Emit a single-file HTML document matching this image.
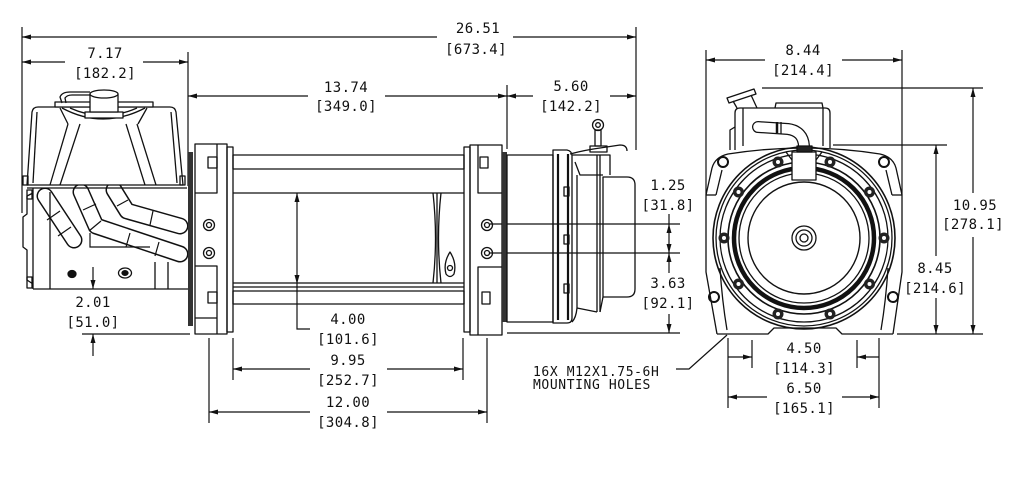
<!DOCTYPE html>
<html><head><meta charset="utf-8">
<style>
html,body{margin:0;padding:0;background:#fff;}
svg{display:block;}
text{font-family:"DejaVu Sans Mono","Liberation Mono",monospace;font-size:14px;fill:#111;letter-spacing:0.4px;}
text.s{font-size:13px;letter-spacing:0.6px;}
</style></head><body>
<svg width="1025" height="481" viewBox="0 0 1025 481" xmlns="http://www.w3.org/2000/svg">
<rect width="1025" height="481" fill="#fff"/>

<!-- ================= DIMENSION LINES ================= -->
<g stroke="#111" stroke-width="1.2" fill="none">
  <!-- 26.51 -->
  <line x1="22" y1="27" x2="22" y2="213"/>
  <line x1="636" y1="27" x2="636" y2="150"/>
  <line x1="22" y1="37" x2="437" y2="37"/>
  <line x1="513" y1="37" x2="636" y2="37"/>
  <!-- 7.17 -->
  <line x1="188" y1="52" x2="188" y2="186"/>
  <line x1="22" y1="62" x2="65" y2="62"/>
  <line x1="143" y1="62" x2="188" y2="62"/>
  <!-- 13.74 / 5.60 -->
  <line x1="188" y1="96" x2="308" y2="96"/>
  <line x1="385" y1="96" x2="507" y2="96"/>
  <line x1="507" y1="85" x2="507" y2="149"/>
  <line x1="507" y1="96" x2="533" y2="96"/>
  <line x1="610" y1="96" x2="636" y2="96"/>
  <!-- 2.01 -->
  <line x1="82" y1="334" x2="190" y2="334"/>
  <line x1="93" y1="267" x2="93" y2="289"/>
  <line x1="93" y1="334" x2="93" y2="356"/>
  <!-- 4.00 -->
  <polyline points="297,193 297,329 310,329"/>
  <!-- 9.95 -->
  <line x1="233" y1="338" x2="233" y2="380"/>
  <line x1="463" y1="338" x2="463" y2="380"/>
  <line x1="233" y1="369" x2="310" y2="369"/>
  <line x1="387" y1="369" x2="463" y2="369"/>
  <!-- 12.00 -->
  <line x1="209" y1="338" x2="209" y2="423"/>
  <line x1="487" y1="338" x2="487" y2="423"/>
  <line x1="209" y1="412" x2="310" y2="412"/>
  <line x1="387" y1="412" x2="487" y2="412"/>
  <!-- 1.25 / 3.63 -->
  <line x1="490" y1="224" x2="680" y2="224"/>
  <line x1="490" y1="253" x2="680" y2="253"/>
  <line x1="507" y1="333" x2="680" y2="333"/>
  <line x1="669" y1="214" x2="669" y2="273"/>
  <line x1="669" y1="314" x2="669" y2="333"/>
  <!-- 8.44 -->
  <line x1="706" y1="50" x2="706" y2="195"/>
  <line x1="902" y1="50" x2="902" y2="195"/>
  <line x1="706" y1="60" x2="765" y2="60"/>
  <line x1="842" y1="60" x2="902" y2="60"/>
  <!-- 10.95 -->
  <line x1="762" y1="88" x2="983" y2="88"/>
  <line x1="973" y1="88" x2="973" y2="193"/>
  <line x1="973" y1="237" x2="973" y2="334"/>
  <!-- 8.45 -->
  <line x1="833" y1="145" x2="947" y2="145"/>
  <line x1="936" y1="145" x2="936" y2="256"/>
  <line x1="936" y1="298" x2="936" y2="334"/>
  <line x1="897" y1="334" x2="983" y2="334"/>
  <!-- 4.50 -->
  <line x1="752" y1="340" x2="752" y2="368"/>
  <line x1="857" y1="340" x2="857" y2="368"/>
  <line x1="728" y1="357" x2="752" y2="357"/>
  <line x1="857" y1="357" x2="879" y2="357"/>
  <!-- 6.50 -->
  <line x1="728" y1="338" x2="728" y2="408"/>
  <line x1="879" y1="338" x2="879" y2="408"/>
  <line x1="728" y1="397" x2="767" y2="397"/>
  <line x1="842" y1="397" x2="879" y2="397"/>
  <!-- leader -->
  <polyline points="727,335 689,369 676,369"/>
</g>

<!-- arrowheads -->
<g fill="#111" stroke="none">
  <polygon points="22,37 31,34.5 31,39.5"/>
  <polygon points="636,37 627,34.5 627,39.5"/>
  <polygon points="22,62 31,59.5 31,64.5"/>
  <polygon points="188,62 179,59.5 179,64.5"/>
  <polygon points="188,96 197,93.5 197,98.5"/>
  <polygon points="507,96 498,93.5 498,98.5"/>
  <polygon points="507,96 516,93.5 516,98.5"/>
  <polygon points="636,96 627,93.5 627,98.5"/>
  <polygon points="93,289 90.5,280 95.5,280"/>
  <polygon points="93,334 90.5,343 95.5,343"/>
  <polygon points="297,193 294.5,202 299.5,202"/>
  <polygon points="297,284 294.5,275 299.5,275"/>
  <polygon points="233,369 242,366.5 242,371.5"/>
  <polygon points="463,369 454,366.5 454,371.5"/>
  <polygon points="209,412 218,409.5 218,414.5"/>
  <polygon points="487,412 478,409.5 478,414.5"/>
  <polygon points="669,224 666.5,233 671.5,233"/>
  <polygon points="669,253 666.5,244 671.5,244"/>
  <polygon points="669,253 666.5,262 671.5,262"/>
  <polygon points="669,333 666.5,324 671.5,324"/>
  <polygon points="706,60 715,57.5 715,62.5"/>
  <polygon points="902,60 893,57.5 893,62.5"/>
  <polygon points="973,88 970.5,97 975.5,97"/>
  <polygon points="973,334 970.5,325 975.5,325"/>
  <polygon points="936,145 933.5,154 938.5,154"/>
  <polygon points="936,334 933.5,325 938.5,325"/>
  <polygon points="752,357 743,354.5 743,359.5"/>
  <polygon points="857,357 866,354.5 866,359.5"/>
  <polygon points="728,397 737,394.5 737,399.5"/>
  <polygon points="879,397 870,394.5 870,399.5"/>
</g>

<!-- ================= SIDE VIEW: MOTOR ================= -->
<!-- cables (tubes) -->
<g fill="none" stroke-linecap="round" stroke-linejoin="round">
  <g stroke="#111" stroke-width="17">
    <polyline points="45,196 74,240"/>
    <polyline points="81,192 96,226 180,254"/>
    <polyline points="114,190 127,211 180,226"/>
  </g>
  <g stroke="#fff" stroke-width="14">
    <polyline points="45,196 74,240"/>
    <polyline points="81,192 96,226 180,254"/>
    <polyline points="114,190 127,211 180,226"/>
  </g>
</g>
<g stroke="#111" stroke-width="1.2" fill="none">
  <!-- cable bands -->
  <line x1="47" y1="220" x2="60" y2="211"/>
  <line x1="58" y1="236" x2="71" y2="227"/>
  <line x1="83" y1="210" x2="96" y2="204"/>
  <line x1="89" y1="231" x2="101" y2="221"/>
  <line x1="126" y1="247" x2="130" y2="233"/>
  <line x1="155" y1="256" x2="159" y2="242"/>
  <line x1="117" y1="206" x2="128" y2="200"/>
  <line x1="150" y1="225" x2="153" y2="211"/>
  <path d="M90,233 L90,247 L150,247"/>
</g>

<g stroke="#111" stroke-width="1.3" fill="none" stroke-linejoin="round">
  <!-- box -->
  <path d="M27,185 L32,112 Q33,107 38,107 L170,107 Q175,107 176,112 L183,185 Z" fill="#fff"/>
  <line x1="37" y1="112" x2="33" y2="183"/>
  <line x1="171" y1="112" x2="177" y2="183"/>
  <line x1="27" y1="188" x2="187" y2="188"/>
  <rect x="23" y="176" width="5" height="9"/>
  <rect x="180" y="176" width="5" height="9"/>
  <!-- legs -->
  <line x1="68" y1="124" x2="50" y2="185"/>
  <line x1="80" y1="124" x2="60" y2="185"/>
  <line x1="126" y1="124" x2="145" y2="185"/>
  <line x1="137" y1="124" x2="156" y2="185"/>
  <!-- top plate -->
  <path d="M55,102 L153,102 L153,107 L55,107 Z" fill="#fff"/>
  <path d="M62,108 Q103,130 145,108"/>
  <path d="M70,108 Q103,123 137,108"/>
  <path d="M60,108 L68,124 M147,108 L138,124"/>
  <!-- cap -->
  <rect x="85" y="112" width="38" height="6" fill="#fff"/>
  <rect x="90" y="94" width="28" height="18" fill="#fff"/>
  <ellipse cx="104" cy="94" rx="14" ry="4" fill="#fff"/>
  <path d="M62,103 L60,97 Q62,92 70,92 L90,92"/>
  <path d="M66,103 L65,98 Q67,95 72,95 L90,95"/>
  <!-- lower body -->
  <line x1="33" y1="188" x2="33" y2="289"/>
  <line x1="50" y1="192" x2="50" y2="289"/>
  <line x1="33" y1="289" x2="188" y2="289"/>
  <line x1="155" y1="262" x2="155" y2="289"/>
  <line x1="168" y1="262" x2="168" y2="289"/>
  <path d="M33,193 L27,196 L27,214 L23,217 L23,247 L27,250 L27,280 L33,284"/>
  <rect x="27" y="190" width="5" height="9"/>
  <rect x="27" y="277" width="5" height="11"/>
  <!-- dot & screw -->
  <ellipse cx="72" cy="274" rx="4" ry="3.5" fill="#111"/>
  <ellipse cx="125" cy="273" rx="6.5" ry="5"/>
  <ellipse cx="125" cy="273" rx="3" ry="2.3" fill="#111"/>
</g>

<!-- ================= SIDE VIEW: DRUM & FRAME ================= -->
<rect x="188" y="152" width="5" height="174" fill="#333"/>
<g stroke="#111" stroke-width="1.3" fill="none" stroke-linejoin="round">
  <!-- left flange -->
  <rect x="195" y="144" width="32" height="190"/>
  <polyline points="217,144 217,193 195,193"/>
  <rect x="208" y="157" width="9" height="11"/>
  <circle cx="209" cy="225" r="5.5"/><circle cx="209" cy="225" r="2.5"/>
  <circle cx="209" cy="253" r="5.5"/><circle cx="209" cy="253" r="2.5"/>
  <polyline points="195,266 217,266 217,334"/>
  <rect x="208" y="292" width="9" height="11"/>
  <line x1="195" y1="318" x2="217" y2="318"/>
  <rect x="227" y="147" width="6" height="185"/>
  <!-- rods -->
  <rect x="233" y="155" width="231" height="14"/>
  <rect x="233" y="291" width="231" height="13"/>
  <!-- drum -->
  <line x1="233" y1="193" x2="464" y2="193"/>
  <line x1="233" y1="283" x2="464" y2="283"/>
  <line x1="233" y1="287" x2="464" y2="287"/>
  <path d="M433,193 Q438,238 433,283"/>
  <path d="M441,193 Q436,238 441,283"/>
  <line x1="437" y1="193" x2="437" y2="283"/>
  <path d="M446,274 Q443,263 450,252 Q457,263 454,274 Q450,279 446,274 Z"/>
  <circle cx="450" cy="268" r="2.5"/>
  <!-- right upright & flange -->
  <rect x="464" y="147" width="6" height="185"/>
  <rect x="470" y="145" width="32" height="190"/>
  <polyline points="478,145 478,193 502,193"/>
  <rect x="480" y="157" width="8" height="11"/>
  <circle cx="487" cy="225" r="5.5"/><circle cx="487" cy="225" r="2.5"/>
  <circle cx="487" cy="253" r="5.5"/><circle cx="487" cy="253" r="2.5"/>
  <polyline points="502,267 478,267 478,335"/>
  <rect x="482" y="292" width="8" height="12"/>
</g>
<rect x="502" y="152" width="5" height="170" fill="#333"/>
<g stroke="#111" stroke-width="1.3" fill="none" stroke-linejoin="round">
  <!-- gearbox -->
  <rect x="507" y="155" width="46" height="167"/>
  <path d="M553,150 L567,150 Q572,151 572,156 L572,318 Q572,323 567,323 L553,323 Z"/>
  <line x1="558" y1="154" x2="558" y2="320" stroke-width="2.2"/>
  <line x1="568" y1="154" x2="568" y2="320" stroke-width="2.2"/>
  <rect x="564" y="187" width="5" height="9"/>
  <rect x="564" y="235" width="5" height="9"/>
  <rect x="564" y="284" width="5" height="9"/>
  <!-- end housing -->
  <path d="M572,155 L610,155 L610,175"/>
  <path d="M575,162 L580,175 L603,175"/>
  <line x1="577" y1="175" x2="577" y2="308"/>
  <path d="M577,308 Q576,318 572,322"/>
  <line x1="597" y1="155" x2="597" y2="312"/>
  <line x1="600" y1="155" x2="600" y2="312"/>
  <path d="M603,177 L627,177 Q635,177 635,185 L635,289 Q635,297 627,297 L603,297 Z"/>
  <path d="M600,312 L603,297"/>
  <path d="M577,308 L597,312"/>
  <!-- eye bolt -->
  <circle cx="598" cy="125" r="5.5"/>
  <circle cx="598" cy="125" r="2.3"/>
  <rect x="595" y="130" width="6" height="16"/>
  <rect x="590" y="146" width="17" height="6"/>
  <path d="M570,154 Q585,150 600,148 L620,145 Q627,145 627,151"/>
</g>

<!-- ================= END VIEW ================= -->
<g stroke="#111" stroke-width="1.3" fill="none" stroke-linejoin="round">
  <!-- motor on top -->
  <path d="M735,150 L735,113 Q735,108 740,108 L825,108 Q830,108 830,113 L830,148"/>
  <line x1="743" y1="108" x2="743" y2="146"/>
  <line x1="823" y1="108" x2="823" y2="146"/>
  <path d="M775,108 L776,103 L822,103 L823,108"/>
  <path d="M730,150 L730,130 L735,127"/>
  <path d="M727,98 L754,89 L756,94 L729,103 Z" fill="#fff"/>
  <path d="M733,101 L737,108 M751,95 L757,108"/>
</g>
<g fill="none" stroke-linecap="round" stroke-linejoin="round">
  <path d="M758,127 L788,129 Q803,131 804,146" stroke="#111" stroke-width="12"/>
  <path d="M758,127 L788,129 Q803,131 804,146" stroke="#fff" stroke-width="9.5"/>
</g>
<g stroke="#111" stroke-width="1.3" fill="none">
  <line x1="777" y1="122" x2="777" y2="133" stroke-width="2.5"/>
  <line x1="781" y1="122" x2="781" y2="134"/>
</g>
<g stroke="#111" stroke-width="1.3" fill="none" stroke-linejoin="round">
  <!-- housing -->
  <path d="M717,334 L706,272 L706,195 L712,168 Q715,157 728,154 Q804,142 880,154 Q893,157 896,168 L902,195 L902,272 L893,334"/>
  <path d="M717,334 L768,334 L774,328 L836,328 L842,334 L893,334"/>
  <line x1="706" y1="195" x2="716" y2="195"/>
  <line x1="892" y1="195" x2="902" y2="195"/>
  <line x1="716" y1="195" x2="722" y2="170"/>
  <line x1="892" y1="195" x2="886" y2="170"/>
  <path d="M720,268 Q722,300 727,330"/>
  <path d="M888,268 Q886,300 881,330"/>
  <!-- corner holes -->
  <circle cx="723" cy="162" r="5" stroke-width="2"/>
  <circle cx="884" cy="162" r="5" stroke-width="2"/>
  <circle cx="714" cy="297" r="5" stroke-width="2"/>
  <circle cx="893" cy="297" r="5" stroke-width="2"/>
  <!-- concentric rings -->
  <circle cx="804" cy="238" r="91" stroke-width="1.6"/>
  <circle cx="804" cy="238" r="88"/>
  <circle cx="804" cy="238" r="84"/>
  <circle cx="804" cy="238" r="76" stroke-width="1.6"/>
  <circle cx="804" cy="238" r="70" stroke-width="4.5"/>
  <circle cx="804" cy="238" r="65"/>
  <circle cx="804" cy="238" r="56" stroke-width="1.4"/>
  <circle cx="804" cy="238" r="12"/>
  <circle cx="804" cy="238" r="8"/>
  <circle cx="804" cy="238" r="4"/>
  <!-- top notch -->
  <rect x="792" y="152" width="24" height="28" fill="#fff"/>
  <rect x="797" y="146" width="15" height="6" fill="#222"/>
  <path d="M786,152 L792,160 M822,152 L816,160"/>
</g>
<!-- bolt bosses -->
<g fill="#222" stroke="none">
  <circle cx="830" cy="162" r="5.5"/><circle cx="778" cy="162" r="5.5"/>
  <circle cx="869.5" cy="192" r="5.5"/><circle cx="738.5" cy="192" r="5.5"/>
  <circle cx="884" cy="238" r="5.5"/><circle cx="724" cy="238" r="5.5"/>
  <circle cx="869.5" cy="284" r="5.5"/><circle cx="738.5" cy="284" r="5.5"/>
  <circle cx="830" cy="314" r="5.5"/><circle cx="778" cy="314" r="5.5"/>
</g>
<g fill="#fff" stroke="none">
  <circle cx="830" cy="162" r="2"/><circle cx="778" cy="162" r="2"/>
  <circle cx="869.5" cy="192" r="2"/><circle cx="738.5" cy="192" r="2"/>
  <circle cx="884" cy="238" r="2"/><circle cx="724" cy="238" r="2"/>
  <circle cx="869.5" cy="284" r="2"/><circle cx="738.5" cy="284" r="2"/>
  <circle cx="830" cy="314" r="2"/><circle cx="778" cy="314" r="2"/>
</g>

<!-- ================= TEXT ================= -->
<g text-anchor="middle">
  <text x="478" y="33">26.51</text>
  <text x="476" y="54">[673.4]</text>
  <text x="105" y="58">7.17</text>
  <text x="105" y="78">[182.2]</text>
  <text x="346" y="92">13.74</text>
  <text x="346" y="111">[349.0]</text>
  <text x="571" y="91">5.60</text>
  <text x="571" y="111">[142.2]</text>
  <text x="93" y="307">2.01</text>
  <text x="93" y="327">[51.0]</text>
  <text x="348" y="324">4.00</text>
  <text x="348" y="344">[101.6]</text>
  <text x="348" y="365">9.95</text>
  <text x="348" y="385">[252.7]</text>
  <text x="348" y="407">12.00</text>
  <text x="348" y="427">[304.8]</text>
  <text x="668" y="190">1.25</text>
  <text x="668" y="210">[31.8]</text>
  <text x="668" y="288">3.63</text>
  <text x="668" y="308">[92.1]</text>
  <text x="803" y="55">8.44</text>
  <text x="803" y="75">[214.4]</text>
  <text x="975" y="210">10.95</text>
  <text x="973" y="229">[278.1]</text>
  <text x="935" y="273">8.45</text>
  <text x="935" y="293">[214.6]</text>
  <text x="804" y="353">4.50</text>
  <text x="804" y="373">[114.3]</text>
  <text x="804" y="393">6.50</text>
  <text x="804" y="413">[165.1]</text>
</g>
<text class="s" x="533" y="376">16X M12X1.75-6H</text>
<text class="s" x="533" y="389">MOUNTING HOLES</text>
</svg>
</body></html>
